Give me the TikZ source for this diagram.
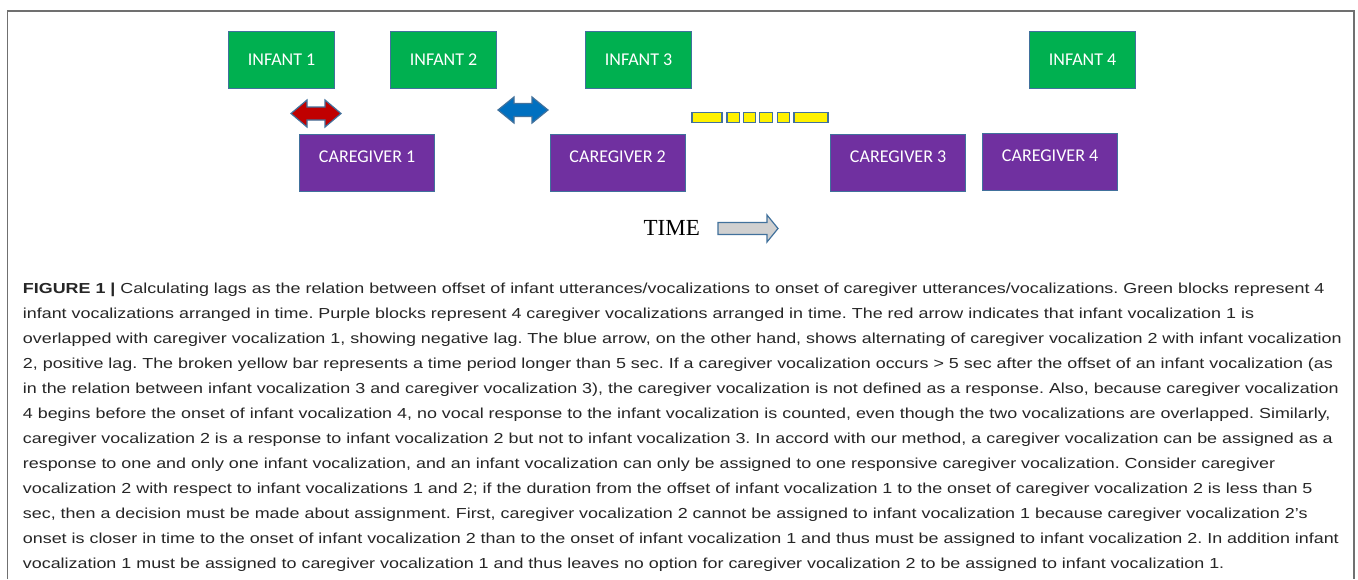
\documentclass[tikz,border=0pt]{standalone}
\usepackage{fontspec}
\setmainfont{Liberation Sans}
\newfontfamily\capfont[FakeStretch=1.235]{Liberation Sans}
\newfontfamily\boxfont{Carlito}
\newfontfamily\timefont{Liberation Serif}
\definecolor{ingreen}{HTML}{00B050}
\definecolor{cgpurple}{HTML}{7030A0}
\definecolor{edgeblue}{HTML}{41719C}
\definecolor{redarr}{HTML}{C00000}
\definecolor{bluearr}{HTML}{0070C0}
\definecolor{timegray}{HTML}{D0D0D0}
\definecolor{captext}{HTML}{262626}
\definecolor{framegray}{HTML}{707070}
\begin{document}
\frenchspacing
\begin{tikzpicture}[x=1pt,y=-1pt,
  infbox/.style={draw=edgeblue, line width=1.2pt, fill=ingreen, minimum width=106pt,
    minimum height=57pt, anchor=north west, inner sep=0pt, text=white,
    font=\boxfont\fontsize{18}{20}\selectfont},
  cgbox/.style={infbox, fill=cgpurple, minimum width=135pt, text height=12pt, text depth=13pt},
  dblarrow/.style={draw=edgeblue, line width=1.2pt, line join=miter},
  gapseg/.style={draw=edgeblue, line width=1.6pt, fill=yellow},
  capline/.style={anchor=base west, inner sep=0pt, text=captext,
    font=\capfont\fontsize{14.5}{25}\selectfont}]
\useasboundingbox (0,0) rectangle (1358,579);
\fill[white] (0,0) rectangle (1358,579);
\draw[framegray, line width=1.1pt] (7.5,579) -- (7.5,11) -- (1354,11) -- (1354,579);

% infant blocks
\node[infbox] (i1) at (228,31) {INFANT 1};
\node[infbox] (i2) at (390,31) {INFANT 2};
\node[infbox] (i3) at (585,31) {INFANT 3};
\node[infbox] (i4) at (1029,31) {INFANT 4};

% caregiver blocks
\node[cgbox] (c1) at (299,134) {CAREGIVER 1};
\node[cgbox] (c2) at (549.5,134) {CAREGIVER 2};
\node[cgbox] (c3) at (830,134) {CAREGIVER 3};
\node[cgbox] (c4) at (982,133) {CAREGIVER 4};

% red double arrow (overlap)
\filldraw[dblarrow, fill=redarr] (291,113.5) -- (307,100) -- (307,107) -- (325,107) -- (325,100)
  -- (341,113.5) -- (325,127) -- (325,120) -- (307,120) -- (307,127) -- cycle;
% blue double arrow (gap)
\filldraw[dblarrow, fill=bluearr] (498,110) -- (514,97) -- (514,103.5) -- (532,103.5) -- (532,97)
  -- (548,110) -- (532,123) -- (532,116.5) -- (514,116.5) -- (514,123) -- cycle;

% broken yellow bar
\filldraw[gapseg] (692,112.5) rectangle (722,122.5);
\filldraw[gapseg] (727,112.5) rectangle (739.5,122.5);
\filldraw[gapseg] (743.5,112.5) rectangle (755.5,122.5);
\filldraw[gapseg] (759.5,112.5) rectangle (772.5,122.5);
\filldraw[gapseg] (777.5,112.5) rectangle (789.5,122.5);
\filldraw[gapseg] (794,112.5) rectangle (828,122.5);

% time
\node[anchor=base east, inner sep=0pt, font=\timefont\fontsize{23}{25}\selectfont] (time) at (700,235) {TIME};
\filldraw[dblarrow, fill=timegray] (718,222.5) -- (767,222.5) -- (767,215) -- (778,228.5)
  -- (767,242) -- (767,234.5) -- (718,234.5) -- cycle;

% caption
\node[capline] (l1) at (22.7,293) {\textbf{FIGURE 1 |} Calculating lags as the relation between offset of infant utterances/vocalizations to onset of caregiver utterances/vocalizations. Green blocks represent 4};
\node[capline] (l2) at (22.7,318) {infant vocalizations arranged in time. Purple blocks represent 4 caregiver vocalizations arranged in time. The red arrow indicates that infant vocalization 1 is};
\node[capline] (l3) at (22.7,343) {overlapped with caregiver vocalization 1, showing negative lag. The blue arrow, on the other hand, shows alternating of caregiver vocalization 2 with infant vocalization};
\node[capline] (l4) at (22.7,368) {2, positive lag. The broken yellow bar represents a time period longer than 5 sec. If a caregiver vocalization occurs > 5 sec after the offset of an infant vocalization (as};
\node[capline] (l5) at (22.7,393) {in the relation between infant vocalization 3 and caregiver vocalization 3), the caregiver vocalization is not defined as a response. Also, because caregiver vocalization};
\node[capline] (l6) at (22.7,418) {4 begins before the onset of infant vocalization 4, no vocal response to the infant vocalization is counted, even though the two vocalizations are overlapped. Similarly,};
\node[capline] (l7) at (22.7,443) {caregiver vocalization 2 is a response to infant vocalization 2 but not to infant vocalization 3. In accord with our method, a caregiver vocalization can be assigned as a};
\node[capline] (l8) at (22.7,468) {response to one and only one infant vocalization, and an infant vocalization can only be assigned to one responsive caregiver vocalization. Consider caregiver};
\node[capline] (l9) at (22.7,493) {vocalization 2 with respect to infant vocalizations 1 and 2; if the duration from the offset of infant vocalization 1 to the onset of caregiver vocalization 2 is less than 5};
\node[capline] (l10) at (22.7,518) {sec, then a decision must be made about assignment. First, caregiver vocalization 2 cannot be assigned to infant vocalization 1 because caregiver vocalization 2’s};
\node[capline] (l11) at (22.7,543) {onset is closer in time to the onset of infant vocalization 2 than to the onset of infant vocalization 1 and thus must be assigned to infant vocalization 2. In addition infant};
\node[capline] (l12) at (22.7,568) {vocalization 1 must be assigned to caregiver vocalization 1 and thus leaves no option for caregiver vocalization 2 to be assigned to infant vocalization 1.};
\end{tikzpicture}
\end{document}
